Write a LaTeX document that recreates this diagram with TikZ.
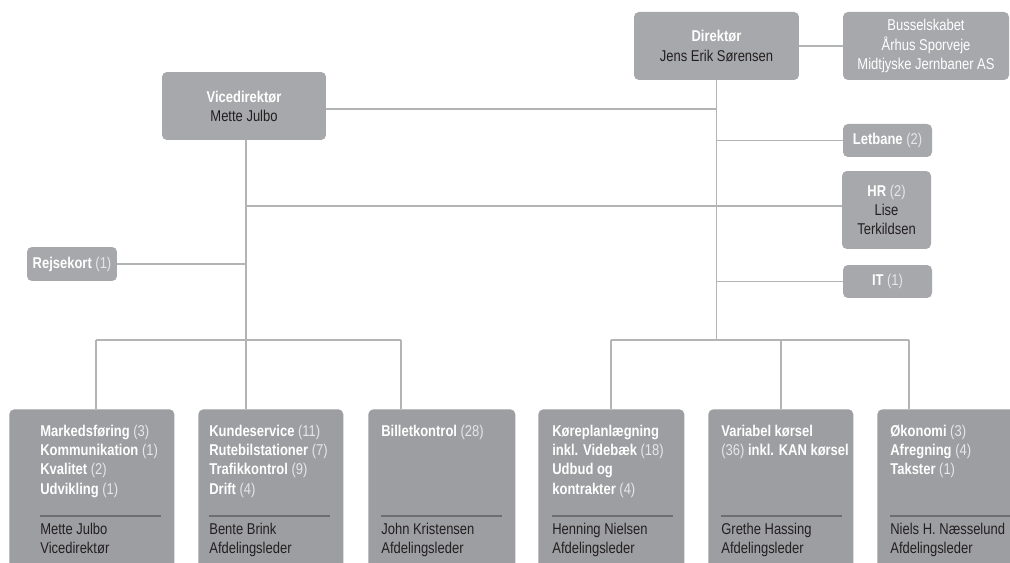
\documentclass[tikz,border=0pt]{standalone}
\usepackage{fontspec}
\setmainfont{Liberation Sans}[FakeStretch=0.83]
\usetikzlibrary{positioning}

\definecolor{boxgray}{HTML}{A7A8AB}
\definecolor{lowgray}{HTML}{9D9EA1}
\definecolor{linegray}{HTML}{B3B4B6}
\definecolor{namedark}{HTML}{231F20}
\definecolor{cntgray}{HTML}{E6E6E8}
\definecolor{sepgray}{HTML}{6D6E71}

\newcommand\wb[1]{{\color{white}\bfseries #1}}
\newcommand\cnt[1]{{\color{cntgray}(#1)}}
\newcommand\afd[2]{\wb{#1} \cnt{#2}}

\begin{document}
\begin{tikzpicture}[
    x=0.02cm, y=-0.02cm,
    font=\fontsize{8.9}{10.9}\selectfont,
    text=namedark,
    box/.style={fill=boxgray, rounded corners=2.8pt, align=center, inner sep=0pt},
    lowbox/.style={fill=lowgray, rounded corners=2.8pt, anchor=north west, minimum height=3.6cm, inner sep=0pt},
    txt/.style={anchor=north west, align=left, inner sep=0pt},
    conn/.style={draw=linegray, line width=0.8pt},
    sep/.style={draw=sepgray, line width=0.6pt}
  ]
  \clip (0,0) rectangle (1010,563);
  \fill[white] (0,0) rectangle (1010,563);

  % ledelse
  \node[box, minimum width=3.3cm, minimum height=1.36cm] (dir) at (716.5,46) {\wb{Direktør}\\Jens Erik Sørensen};
  \node[box, minimum width=3.32cm, minimum height=1.36cm, text=white] (bus) at (926,46) {Busselskabet\\Århus Sporveje\\Midtjyske Jernbaner AS};
  \node[box, minimum width=3.28cm, minimum height=1.36cm] (vice) at (244,106) {\wb{Vicedirektør}\\Mette Julbo};

  % stabe
  \node[box, minimum width=1.78cm, minimum height=0.66cm] (letbane) at (887.5,140.5) {\afd{Letbane}{2}};
  \node[box, minimum width=1.78cm, minimum height=1.56cm] (hr) at (886.5,210) {\afd{HR}{2}\\Lise\\Terkildsen};
  \node[box, minimum width=1.78cm, minimum height=0.66cm] (it) at (887.5,281.5) {\afd{IT}{1}};
  \node[box, minimum width=1.8cm, minimum height=0.68cm] (rejse) at (72,264) {\afd{Rejsekort}{1}};

  % afdelinger
  \foreach \nm/\bx/\bw/\tx/\dept/\who in {
      b1/9/3.3/40/{\afd{Markedsføring}{3}\\\afd{Kommunikation}{1}\\\afd{Kvalitet}{2}\\\afd{Udvikling}{1}}/{Mette Julbo\\Vicedirektør},
      b2/198/2.9/209/{\afd{Kundeservice}{11}\\\afd{Rutebilstationer}{7}\\\afd{Trafikkontrol}{9}\\\afd{Drift}{4}}/{Bente Brink\\Afdelingsleder},
      b3/368/2.94/381/{\afd{Billetkontrol}{28}}/{John Kristensen\\Afdelingsleder},
      b4/538/2.92/552/{\wb{Køreplanlægning}\\\afd{inkl. Videbæk}{18}\\\wb{Udbud og}\\\afd{kontrakter}{4}}/{Henning Nielsen\\Afdelingsleder},
      b5/708/2.9/721/{\wb{Variabel kørsel}\\\cnt{36} \wb{inkl. KAN kørsel}}/{Grethe Hassing\\Afdelingsleder},
      b6/877/3.0/890/{\afd{Økonomi}{3}\\\afd{Afregning}{4}\\\afd{Takster}{1}}/{Niels H. Næsselund\\Afdelingsleder}}{
    \node[lowbox, minimum width=\bw cm] (\nm) at (\bx,409) {};
    \node[txt] (\nm-dept) at (\tx,425) {\dept};
    \draw[sep] (\tx,516) -- ++(121,0);
    \node[txt] (\nm-who) at (\tx,523) {\who};
  }

  % forbindelser
  \coordinate (l1) at (96,340);
  \coordinate (lbus) at (246,340);
  \coordinate (l3) at (401,340);
  \coordinate (r1) at (611,340);
  \coordinate (rbus) at (716.5,340);
  \coordinate (r2) at (781,340);
  \coordinate (r3) at (909,340);

  \draw[conn] (dir.east) -- (bus.west);
  \draw[conn] (dir.south) -- (rbus);
  \draw[conn] ([yshift=-0.06cm]vice.east) -- ([yshift=-0.06cm]vice.east -| dir.south);
  \draw[conn] (vice.south -| lbus) -- (lbus);
  \draw[conn] ([yshift=0.08cm]hr.west -| lbus) -- ([yshift=0.08cm]hr.west);
  \draw[conn] (letbane.west -| rbus) -- (letbane.west);
  \draw[conn] (it.west -| rbus) -- (it.west);
  \draw[conn] (rejse.east) -- (rejse.east -| lbus);
  \draw[conn] (l1) -- (l3);
  \draw[conn] (r1) -- (r3);
  \foreach \c/\b in {l1/b1, lbus/b2, l3/b3, r1/b4, r2/b5, r3/b6}
    \draw[conn] (\c) -- (\c |- \b.north);
\end{tikzpicture}
\end{document}
